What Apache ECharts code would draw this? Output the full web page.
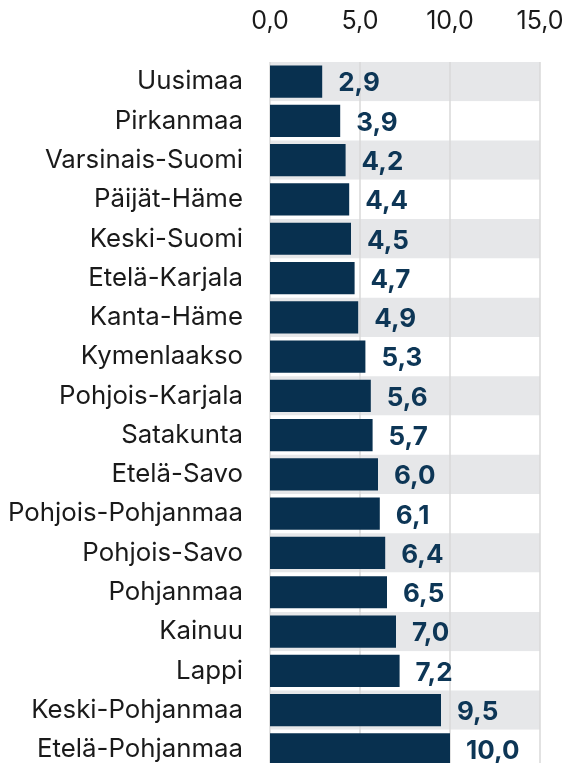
<!DOCTYPE html>
<html>
<head>
<meta charset="utf-8">
<script src="https://cdn.jsdelivr.net/npm/echarts@6/dist/echarts.min.js"></script>
<style>
    html, body { margin: 0; padding: 0; background: #fff; }
    #chart { width: 571px; height: 763px; }
</style>
</head>
<body>
<div id="chart"></div>
<script>
// maakunnat ylhäältä alas
var regions = ['Uusimaa', 'Pirkanmaa', 'Varsinais-Suomi', 'Päijät-Häme', 'Keski-Suomi', 'Etelä-Karjala',
    'Kanta-Häme', 'Kymenlaakso', 'Pohjois-Karjala', 'Satakunta', 'Etelä-Savo', 'Pohjois-Pohjanmaa',
    'Pohjois-Savo', 'Pohjanmaa', 'Kainuu', 'Lappi', 'Keski-Pohjanmaa', 'Etelä-Pohjanmaa'];
var values = [2.9, 3.9, 4.2, 4.4, 4.5, 4.7, 4.9, 5.3, 5.6, 5.7, 6.0, 6.1, 6.4, 6.5, 7.0, 7.2, 9.5, 10.0];
var xTicks = [0, 5, 10, 15];

function fmt(v) {
    return v.toFixed(1).replace('.', ',');
}

var chart = echarts.init(document.getElementById('chart'));
var option = {
    animation: false,
    textStyle: { fontFamily: 'Inter' },
    grid: {
        left: 270,
        width: 270,
        top: 62,
        height: 707,
        outerBoundsMode: 'none'
    },
    xAxis: {
        type: 'value',
        position: 'top',
        min: xTicks[0],
        max: xTicks[xTicks.length - 1],
        interval: 5,
        axisLine: { show: false },
        axisTick: { show: false },
        axisLabel: {
            margin: 28,
            fontSize: 25,
            color: '#1a1a1a',
            formatter: function (v) { return fmt(v); }
        },
        splitLine: {
            lineStyle: { color: '#d9d9d9', width: 1.5 }
        }
    },
    yAxis: {
        type: 'category',
        inverse: true,
        data: regions,
        axisLine: { show: false },
        axisTick: { show: false },
        axisLabel: {
            margin: 27,
            fontSize: 25.8,
            color: '#1a1a1a'
        },
        splitArea: {
            show: true,
            areaStyle: { color: ['#e6e7e9', '#ffffff'] }
        }
    },
    series: [{
        type: 'bar',
        data: values,
        barCategoryGap: '18%',
        itemStyle: { color: '#08304f' },
        label: {
            show: true,
            position: 'right',
            distance: 16,
            offset: [0, 2],
            fontSize: 26,
            fontWeight: 'bold',
            color: '#0d3656',
            formatter: function (p) { return fmt(p.value); }
        }
    }]
};
chart.setOption(option);
</script>
</body>
</html>
